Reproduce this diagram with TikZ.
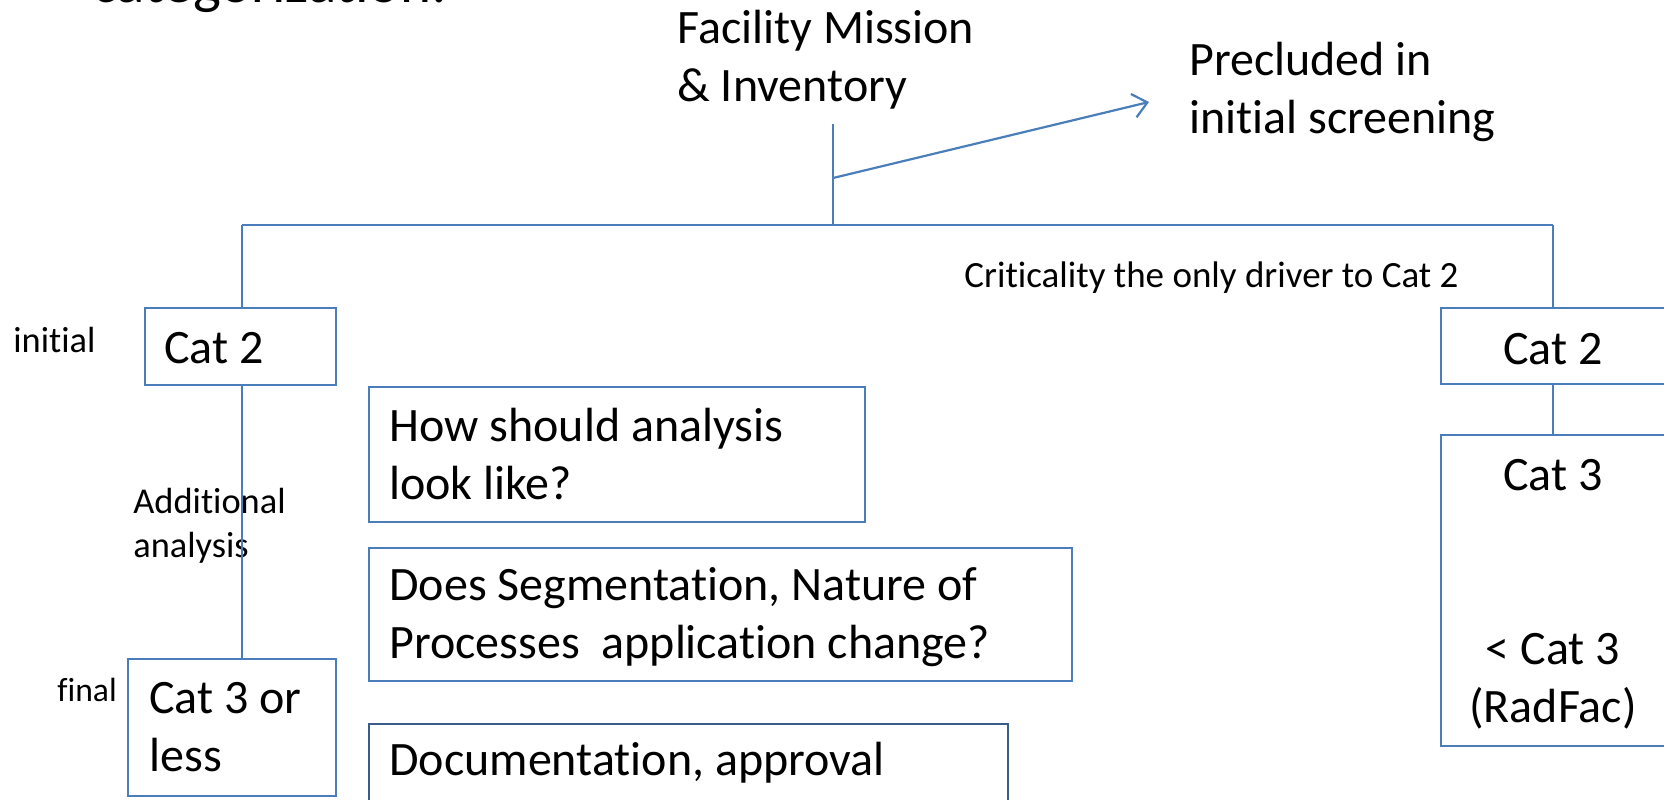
\documentclass[tikz,border=0pt]{standalone}
\usepackage{fontspec}
\setmainfont{Carlito}[Ligatures={NoCommon}]
\usetikzlibrary{fit,arrows.meta}
\definecolor{ln}{RGB}{74,126,187}
\definecolor{lndark}{RGB}{56,93,138}
\tikzset{
  box/.style={draw=ln, line width=1.2pt, inner sep=0pt, fill=none},
  conn/.style={draw=ln, line width=1.1pt},
  lg/.style={inner sep=0pt, anchor=base west, align=left, font=\fontsize{24}{29}\selectfont},
  sm/.style={inner sep=0pt, anchor=base west, align=left, font=\fontsize{18.2}{22}\selectfont},
}
\begin{document}
\begin{tikzpicture}[x=0.5pt,y=-0.5pt]
\useasboundingbox (0,0) rectangle (1664,799);
\clip (0,0) rectangle (1664,799);
% title fragment
\node[inner sep=0pt, anchor=base west, font=\fontsize{29.5}{36}\selectfont] (title) at (92,2) {categorization:};
% top text (base anchor = last line)
\node[lg] (fac) at (677,101) {Facility Mission\\\& Inventory};
\node[lg] (prec) at (1189,133) {Precluded in\\initial screening};
\coordinate (vtop) at (833,124);
\coordinate (vmid) at (833,178);
\coordinate (vbot) at (833,225);
\coordinate (arrend) at (1149,102);
\coordinate (hl) at (242,225);
\coordinate (hr) at (1553,225);
\draw[conn] (vtop) -- (vbot);
\draw[conn, -{Straight Barb[length=7pt,width=12pt]}] (vmid) -- (arrend);
\draw[conn] (hl) -- (hr);
% left column
\node[box, fit={(145,308)(336,385)}] (lc2) {};
\node[lg] (lc2t) at (164,363) {Cat 2};
\node[box, fit={(128,659)(336,796)}] (lc3) {};
\node[lg] (lc3t) at (149,771) {Cat 3 or\\less};
\node[sm] (init) at (13,352) {initial};
\node[sm, font=\fontsize{16.8}{22}\selectfont] (fin) at (57,701) {final};
\node[sm] (add) at (133,557) {Additional\\analysis};
\draw[conn] (hl) -- (lc2.north -| hl);
\draw[conn] (lc2.south -| hl) -- (lc3.north -| hl);
% middle boxes
\node[box, fit={(369,387)(865,522)}] (how) {};
\node[lg] (howt) at (389,499) {How should analysis\\look like?};
\node[box, fit={(369,548)(1072,681)}] (does) {};
\node[lg] (doest) at (389,658) {Does Segmentation, Nature of\\Processes\ \ application change?};
\node[box, draw=lndark, fit={(369,724)(1008,830)}] (doc) {};
\node[lg] (doct) at (389,775) {Documentation, approval};
% right column
\node[sm, font=\fontsize{18.5}{22}\selectfont] (crit) at (964,287) {Criticality the only driver to Cat 2};
\node[box, fit={(1441,308)(1700,384)}] (rc2) {};
\node[lg, anchor=base] (rc2t) at (1553,364) {Cat 2};
\node[box, fit={(1441,435)(1700,746)}] (rc3) {};
\node[lg, anchor=base] (rc3t) at (1553,490) {Cat 3};
\node[lg, anchor=base, align=center] (rc3b) at (1553,722) {< Cat 3\\(RadFac)};
\draw[conn] (hr) -- (rc2.north -| hr);
\draw[conn] (rc2.south -| hr) -- (rc3.north -| hr);
\end{tikzpicture}
\end{document}
